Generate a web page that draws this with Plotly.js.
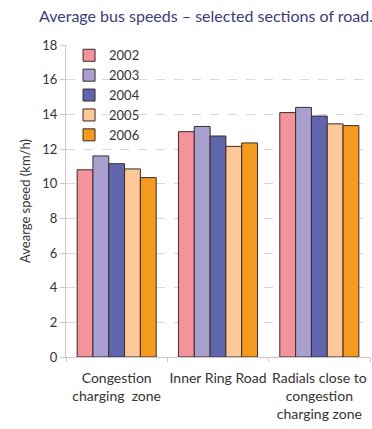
<!DOCTYPE html>
<html>
<head>
<meta charset="utf-8">
<script src="https://cdn.plot.ly/plotly-3.0.1.min.js"></script>
<style>html,body{margin:0;padding:0;background:#fff;}#chart{width:372px;height:429px;}</style>
</head>
<body>
<div id="chart"></div>
<script>
const categories = ["Congestion<br>charging  zone", "Inner Ring Road", "Radials close to<br>congestion<br>charging zone"];
const years = ["2002", "2003", "2004", "2005", "2006"];
const s2002 = [10.8, 13.0, 14.1];
const s2003 = [11.6, 13.3, 14.4];
const s2004 = [11.15, 12.75, 13.9];
const s2005 = [10.85, 12.15, 13.45];
const s2006 = [10.35, 12.35, 13.35];
const colors = ["#f4939b", "#a9a0d0", "#6066ad", "#fdc898", "#f49a1f"];

const series = [s2002, s2003, s2004, s2005, s2006];
const traces = series.map((vals, i) => ({
  type: "bar",
  name: years[i],
  x: categories,
  y: vals,
  marker: {color: colors[i], line: {color: "#3a2a2a", width: 1}},
  hoverinfo: "y"
}));

const layout = {
  width: 372, height: 429,
  margin: {l: 66, r: 2, t: 45, b: 72},
  paper_bgcolor: "#fff", plot_bgcolor: "#fff",
  font: {family: "Lato, sans-serif", color: "#333", size: 13},
  title: {text: "Average bus speeds – selected sections of road.", x: 0.105, xanchor: "left", y: 0.975, yanchor: "top",
          font: {size: 16, color: "#3b3b7c", family: "Lato, sans-serif"}},
  barmode: "group",
  bargap: 0.22,
  bargroupgap: 0,
  showlegend: true,
  legend: {x: 0.01, y: 1.015, xanchor: "left", yanchor: "top", bgcolor: "rgba(0,0,0,0)",
           font: {size: 13, color: "#333"}, tracegroupgap: 0, itemwidth: 30},
  xaxis: {showline: true, linecolor: "#c8c8c8", linewidth: 1, ticks: "outside", tickcolor: "#c8c8c8", ticklen: 4,
          tickangle: 0, tickson: "boundaries", ticklabelstandoff: 8, tickfont: {size: 14, color: "#333"}, showgrid: false},
  yaxis: {range: [0, 18], dtick: 2, showline: true, linecolor: "#c8c8c8", linewidth: 1, ticks: "outside",
          tickcolor: "#c8c8c8", ticklen: 5, tickfont: {size: 13, color: "#333"},
          showgrid: true, gridcolor: "#d8d8d8", griddash: "dash", zeroline: false,
          title: {text: "Avearge speed (km/h)", font: {size: 13, color: "#333"}, standoff: 8}}
};

Plotly.newPlot("chart", traces, layout, {displayModeBar: false, staticPlot: true});
</script>
</body>
</html>
